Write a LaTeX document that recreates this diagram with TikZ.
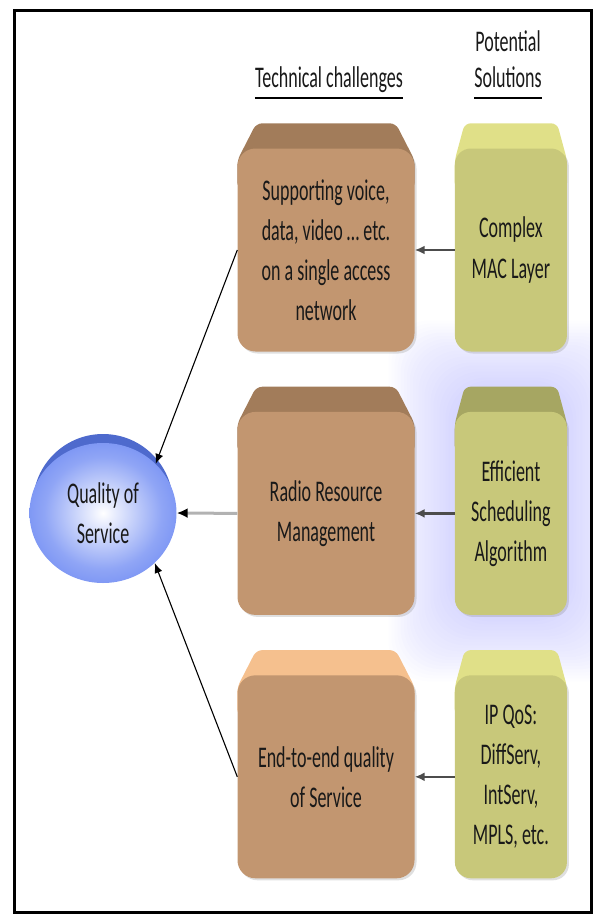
\documentclass[tikz,border=0pt]{standalone}
\usepackage{fontspec}
\setmainfont{Carlito}[FakeStretch=0.6]
\usepackage{xcolor}
\usetikzlibrary{positioning,calc,shapes.geometric,arrows.meta,backgrounds,shadows}

\definecolor{crate}{RGB}{194,150,112}
\definecolor{cratelid}{RGB}{162,124,90}
\definecolor{peachlid}{RGB}{245,192,142}
\definecolor{olive}{RGB}{200,200,122}
\definecolor{olivelid}{RGB}{224,224,136}
\definecolor{olivedark}{RGB}{166,166,98}
\definecolor{qblue}{RGB}{100,130,242}
\definecolor{qrim}{RGB}{78,106,205}
\definecolor{glow}{RGB}{120,120,255}

\pgfdeclareradialshading{qshade}{\pgfpoint{0bp}{0bp}}{%
  color(0bp)=(white); color(4bp)=(white!85!qblue); color(20bp)=(white!28!qblue);
  color(34bp)=(qblue); color(50bp)=(qblue)}

\tikzset{
  txt/.style={font=\fontsize{30pt}{40pt}\selectfont, text=black!90},
  head/.style={txt, inner sep=0pt, anchor=base},
  challenge/.style={txt, rectangle, rounded corners=18pt, fill=crate,
    minimum width=177pt, minimum height=203pt, align=center,
    inner sep=0pt, drop shadow={opacity=0.25, shadow xshift=2pt, shadow yshift=-2pt}},
  solution/.style={txt, rectangle, rounded corners=16pt, fill=olive,
    minimum width=112pt, minimum height=203pt, align=center,
    inner sep=0pt, drop shadow={opacity=0.25, shadow xshift=2pt, shadow yshift=-2pt}},
  quality/.style={txt, ellipse, minimum width=147pt, minimum height=140pt,
    shading=qshade, align=center, inner sep=0pt},
  link/.style={-{Latex[length=10pt,width=8pt]}, line width=1.1pt},
  feed/.style={-{Latex[length=10pt,width=9pt]}, line width=2.2pt, draw=black!70},
}

\newcommand{\lid}[3]{%
  \fill[#2, rounded corners=6pt] ($(#1.north west)+(0,40)$) -- ($(#1.north west)+(0,12)$)
    -- ($(#1.north west)+(#3,-25)$) -- ($(#1.north east)+(-#3,-25)$)
    -- ($(#1.north east)+(0,12)$) -- ($(#1.north east)+(0,40)$) -- cycle;}

\begin{document}
\begin{tikzpicture}[x=1pt, y=-1pt]
  \useasboundingbox (0,0) rectangle (593,915);

  \node[head] (h1) at (329,88) {Technical challenges};
  \node[head] (h2) at (508,88) {Solutions};
  \node[head] (h3) at (508,52) {Potential};
  \draw[line width=2pt] ($(h1.base west)+(0,10)$) -- ($(h1.base east)+(0,10)$);
  \draw[line width=2pt] ($(h2.base west)+(0,10)$) -- ($(h2.base east)+(0,10)$);

  \node[challenge] (c1) at (326,250) {Supporting voice,\\data, video … etc.\\on a single access\\network};
  \node[challenge, below=60pt of c1] (c2) {Radio Resource\\Management};
  \node[challenge, below=60pt of c2] (c3) {End-to-end quality\\of Service};

  \node[solution, right=40pt of c1] (s1) {Complex\\MAC Layer};
  \node[solution, right=40pt of c2] (s2) {Efficient\\Scheduling\\Algorithm};
  \node[solution, right=40pt of c3] (s3) {IP QoS:\\DiffServ,\\IntServ,\\MPLS, etc.};

  \node[quality] (q) at (103,513) {Quality of\\Service};

  \begin{scope}[on background layer]
    \begin{scope}
      \clip (14,11) rectangle (591,912);
      \foreach \g in {1,...,22}
        \fill[glow, opacity=0.016, rounded corners=40pt]
          ($(s2.north west)+(-3*\g,-25-3*\g)$) rectangle ($(s2.south east)+(3*\g,3*\g)$);
    \end{scope}
    \lid{c1}{cratelid}{19}
    \lid{c2}{cratelid}{19}
    \lid{c3}{peachlid}{19}
    \lid{s1}{olivelid}{10}
    \lid{s2}{olivedark}{10}
    \lid{s3}{olivelid}{10}
    \fill[qrim] ($(q.center)+(0,-9)$) ellipse [x radius=70pt, y radius=70pt];
  \end{scope}

  \draw[link] (c1.west) -- (q.43);
  \draw[link] (c3.west) -- (q.-44);
  \draw[-{Latex[length=11pt,width=10pt,color=black]}, line width=3pt, draw=gray!60] (c2.west) -- (q.east);

  \draw[feed] (s1.west) -- (c1.east);
  \draw[feed] (s2.west) -- (c2.east);
  \draw[feed] (s3.west) -- (c3.east);

  \draw[line width=3pt] (14,11) rectangle (591,912);
\end{tikzpicture}
\end{document}
